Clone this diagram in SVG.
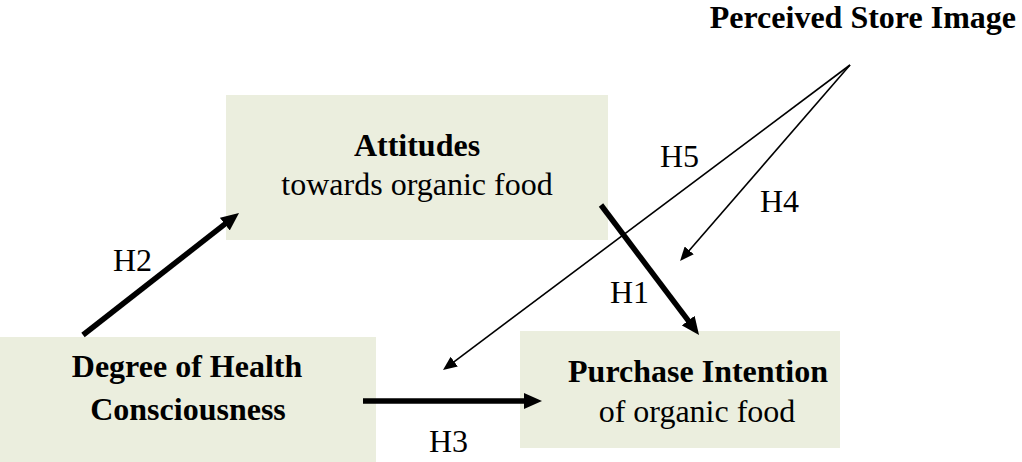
<svg xmlns="http://www.w3.org/2000/svg" width="1022" height="462" viewBox="0 0 1022 462">
  <style>
    .box { fill: #EBEEDE; stroke: none; }
    text { font-family: "Liberation Serif", "Times New Roman", serif; font-size: 32px; fill: #000; }
    .b { font-weight: bold; }
    .c { text-anchor: middle; }
    .thick { stroke: #000; stroke-width: 5.5; fill: none; marker-end: url(#headThick); }
    .thin { stroke: #000; stroke-width: 1.6; fill: none; marker-end: url(#headThin); }
  </style>
  <defs>
    <marker id="headThick" viewBox="0 0 18 16" markerWidth="18" markerHeight="16" refX="2" refY="8" orient="auto" markerUnits="userSpaceOnUse">
      <path d="M0,0 L18,8 L0,16 z" fill="#000"/>
    </marker>
    <marker id="headThin" viewBox="0 0 14 12" markerWidth="14" markerHeight="12" refX="2" refY="6" orient="auto" markerUnits="userSpaceOnUse">
      <path d="M0,0 L14,6 L0,12 z" fill="#000"/>
    </marker>
  </defs>
  <rect width="1022" height="462" fill="#fff"/>

  <g id="attitudes">
    <rect class="box" x="226" y="95" width="382" height="145"/>
    <text class="b c" x="417" y="156">Attitudes</text>
    <text class="c" x="417" y="195">towards organic food</text>
  </g>

  <g id="health">
    <rect class="box" x="0" y="337" width="376" height="125"/>
    <text class="b c" x="187" y="377">Degree of Health</text>
    <text class="b c" x="188" y="420">Consciousness</text>
  </g>

  <g id="purchase">
    <rect class="box" x="520" y="331" width="320" height="117"/>
    <text class="b c" x="698" y="382">Purchase Intention</text>
    <text class="c" x="697" y="422">of organic food</text>
  </g>

  <g id="store">
    <text class="b" x="1016" y="28" text-anchor="end">Perceived Store Image</text>
  </g>

  <g id="connectors">
    <line class="thick" x1="83" y1="335" x2="226.4" y2="222.9"/>
    <line class="thick" x1="363" y1="401" x2="526" y2="401"/>
    <line class="thick" x1="601" y1="205" x2="689.4" y2="322.2"/>
    <line class="thin" x1="850" y1="65" x2="687.9" y2="251.9"/>
    <line class="thin" x1="850" y1="65" x2="452.6" y2="362.8"/>
    <text x="113" y="271">H2</text>
    <text x="429" y="452">H3</text>
    <text x="610" y="303">H1</text>
    <text x="760" y="212">H4</text>
    <text x="660" y="167">H5</text>
  </g>
</svg>
